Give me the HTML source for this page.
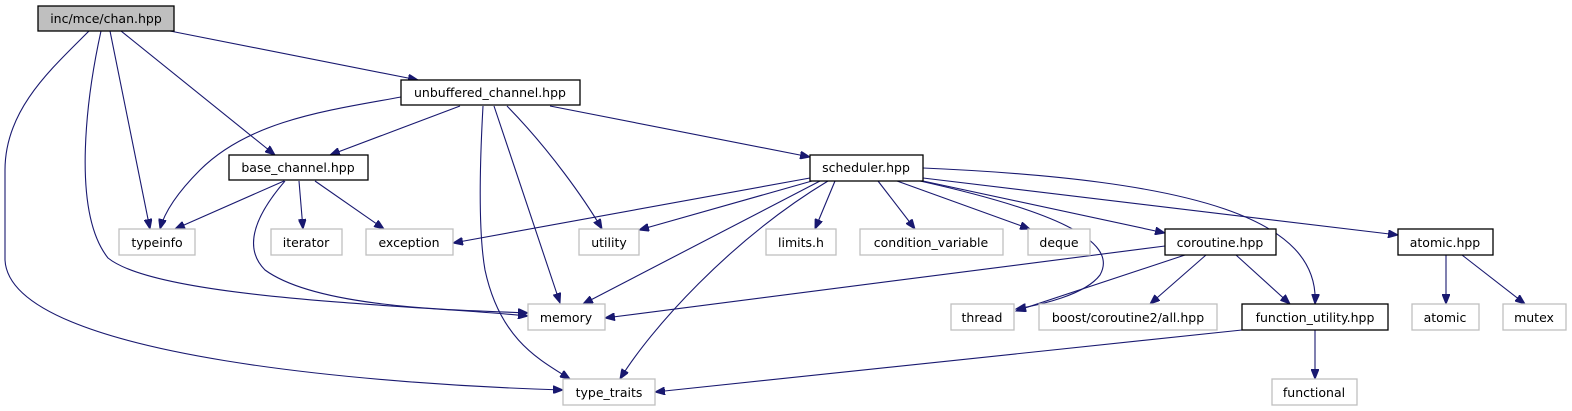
<!DOCTYPE html>
<html><head><meta charset="utf-8"><style>
html,body{margin:0;padding:0;background:#fff;}
svg{display:block;}
text{font-family:"DejaVu Sans","Liberation Sans",sans-serif;font-size:12.5px;fill:#000;text-anchor:middle;}
.e{fill:none;stroke:#191970;stroke-width:1.1;marker-end:url(#a);}
.g{fill:#fff;stroke:#bfbfbf;stroke-width:1.3;}
.b{fill:#fff;stroke:#000;stroke-width:1.3;}
</style></head><body>
<svg width="1572" height="411" viewBox="0 0 1572 411" xmlns="http://www.w3.org/2000/svg">
<defs><marker id="a" markerWidth="11" markerHeight="8" refX="10" refY="4" orient="auto" markerUnits="userSpaceOnUse"><path d="M0,0 L10,4 L0,8 z" fill="#191970" stroke="#191970"/></marker></defs>
<!-- edges -->
<path class="e" d="M170,31 L418,80"/>
<path class="e" d="M121,31 L275,155"/>
<path class="e" d="M110,31 L150,229"/>
<path class="e" d="M101,31 C88,90 70,210 108,258 C160,300 420,305 528,316"/>
<path class="e" d="M89,31 C50,70 5,110 5,170 L5,260 C10,360 400,385 563,390"/>
<path class="e" d="M401,97 C330,110 250,120 200,170 C180,190 165,210 160,229"/>
<path class="e" d="M460,106 L330,155"/>
<path class="e" d="M483,106 C480,160 478,230 485,270 C500,340 540,360 570,379"/>
<path class="e" d="M494,106 L560,303"/>
<path class="e" d="M507,106 C550,150 585,200 602,229"/>
<path class="e" d="M550,106 L810,157"/>
<path class="e" d="M284,181 L175,229"/>
<path class="e" d="M299,181 L303,229"/>
<path class="e" d="M315,181 L384,229"/>
<path class="e" d="M285,181 C260,210 240,245 265,270 C320,310 470,310 528,313"/>
<path class="e" d="M810,178 L453,243"/>
<path class="e" d="M812,181 L639,230"/>
<path class="e" d="M820,181 L583,304"/>
<path class="e" d="M828,181 C730,240 650,330 620,379"/>
<path class="e" d="M835,181 L815,229"/>
<path class="e" d="M878,181 L915,229"/>
<path class="e" d="M897,181 L1030,229"/>
<path class="e" d="M920,181 C1050,210 1120,240 1100,275 C1085,295 1040,305 1016,309"/>
<path class="e" d="M923,181 L1165,233"/>
<path class="e" d="M923,168 C1200,180 1320,220 1315,304"/>
<path class="e" d="M923,178 L1398,235"/>
<path class="e" d="M1165,246 L605,318"/>
<path class="e" d="M1185,255 L1016,311"/>
<path class="e" d="M1206,255 L1150,304"/>
<path class="e" d="M1236,255 L1290,304"/>
<path class="e" d="M1446,255 L1446,304"/>
<path class="e" d="M1462,255 L1525,304"/>
<path class="e" d="M1242,330 L655,392"/>
<path class="e" d="M1315,330 L1315,379"/>
<!-- nodes -->
<rect x="38" y="6" width="136" height="25" fill="#bfbfbf" stroke="#000" stroke-width="1.3"/><text x="106" y="23">inc/mce/chan.hpp</text>
<rect class="b" x="401" y="80" width="179" height="25"/><text x="490" y="97">unbuffered_channel.hpp</text>
<rect class="b" x="229" y="155" width="139" height="25"/><text x="298" y="172">base_channel.hpp</text>
<rect class="b" x="810" y="155" width="113" height="26"/><text x="866" y="172">scheduler.hpp</text>
<rect class="g" x="119" y="229" width="76" height="26"/><text x="157" y="247">typeinfo</text>
<rect class="g" x="271" y="229" width="71" height="26"/><text x="306" y="247">iterator</text>
<rect class="g" x="366" y="229" width="87" height="26"/><text x="409" y="247">exception</text>
<rect class="g" x="579" y="229" width="60" height="26"/><text x="609" y="247">utility</text>
<rect class="g" x="766" y="229" width="70" height="26"/><text x="801" y="247">limits.h</text>
<rect class="g" x="860" y="229" width="143" height="26"/><text x="931" y="247">condition_variable</text>
<rect class="g" x="1028" y="229" width="62" height="26"/><text x="1059" y="247">deque</text>
<rect class="b" x="1165" y="229" width="111" height="26"/><text x="1220" y="247">coroutine.hpp</text>
<rect class="b" x="1398" y="229" width="95" height="26"/><text x="1445" y="247">atomic.hpp</text>
<rect class="g" x="528" y="304" width="77" height="26"/><text x="566" y="322">memory</text>
<rect class="g" x="951" y="304" width="63" height="26"/><text x="982" y="322">thread</text>
<rect class="g" x="1039" y="304" width="178" height="26"/><text x="1128" y="322">boost/coroutine2/all.hpp</text>
<rect class="b" x="1242" y="304" width="146" height="26"/><text x="1315" y="322">function_utility.hpp</text>
<rect class="g" x="1412" y="304" width="67" height="26"/><text x="1445" y="322">atomic</text>
<rect class="g" x="1503" y="304" width="63" height="26"/><text x="1534" y="322">mutex</text>
<rect class="g" x="563" y="379" width="92" height="26"/><text x="609" y="397">type_traits</text>
<rect class="g" x="1272" y="379" width="85" height="26"/><text x="1314" y="397">functional</text>
</svg>
</body></html>
